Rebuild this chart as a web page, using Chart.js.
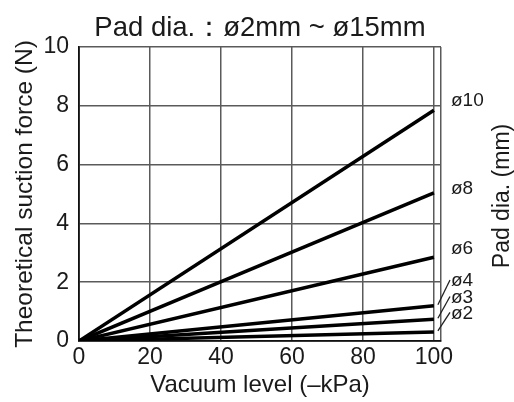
<!DOCTYPE html>
<html>
<head>
<meta charset="utf-8">
<script src="https://cdn.jsdelivr.net/npm/chart.js@4/dist/chart.umd.min.js"></script>
<style>
  html, body { margin: 0; padding: 0; background: #fff; }
  #wrap { width: 514px; height: 402px; }
</style>
</head>
<body>
<div id="wrap"><canvas id="c" width="514" height="402"></canvas></div>
<script>
// ---- data ----
const vacuumLevels = [0, 100];                 // -kPa
const padNames = ['ø10', 'ø8', 'ø6', 'ø4', 'ø3', 'ø2'];
const forceAt100 = [7.85, 5.04, 2.85, 1.2, 0.74, 0.31]; // N at 100 kPa
const xTickValues = [0, 20, 40, 60, 80, 100, 102];
const yTickValues = [0, 2, 4, 6, 8, 10];
const labelAnchor = [8.16, 5.17, 3.13, 2.04, 1.48, 0.94]; // where right-side labels sit (N)
const withLeader = [false, false, false, true, true, true];

const FONT = "'Liberation Sans', Arial, sans-serif";
const datasets = padNames.map((n, i) => ({
  label: n,
  data: vacuumLevels.map(v => ({ x: v, y: forceAt100[i] * v / 100 })),
  showLine: true,
  borderColor: '#000',
  borderWidth: 3.5,
  pointRadius: 0,
  borderCapStyle: 'butt',
  fill: false
}));

const rightSide = {
  id: 'rightSide',
  afterDraw(chart) {
    const { ctx, chartArea, scales } = chart;
    const xs = scales.x, ys = scales.y;
    ctx.save();
    ctx.fillStyle = '#1a1a1a';
    ctx.font = '19px ' + FONT;
    ctx.textAlign = 'left';
    ctx.textBaseline = 'middle';
    padNames.forEach((n, i) => {
      const y = ys.getPixelForValue(labelAnchor[i]);
      const lx = chartArea.right + 10;
      ctx.fillText(n, lx, y);
      if (withLeader[i]) {
        ctx.beginPath();
        ctx.strokeStyle = '#222';
        ctx.lineWidth = 1.3;
        ctx.moveTo(xs.getPixelForValue(100) + 4, ys.getPixelForValue(forceAt100[i]) - 1);
        ctx.lineTo(lx - 1, y - 1);
        ctx.stroke();
      }
    });
    ctx.translate(503, (chartArea.top + chartArea.bottom) / 2 + 2);
    ctx.rotate(-Math.PI / 2);
    ctx.textAlign = 'center';
    ctx.font = '23px ' + FONT;
    ctx.fillText('Pad dia. (mm)', 0, 0);
    ctx.restore();
  }
};

new Chart(document.getElementById('c'), {
  type: 'scatter',
  data: { datasets },
  plugins: [rightSide],
  options: {
    responsive: false,
    animation: false,
    layout: { padding: { left: 0, right: 73, top: 0, bottom: 0 } },
    plugins: {
      legend: { display: false },
      tooltip: { enabled: false },
      title: {
        display: true,
        fullSize: false,
        text: 'Pad dia.：ø2mm ~ ø15mm',
        color: '#1a1a1a',
        font: { family: FONT, size: 27.5, weight: 'normal' },
        padding: { top: 12, bottom: 2 }
      }
    },
    scales: {
      x: {
        type: 'linear',
        min: 0, max: 102,
        afterBuildTicks: s => { s.ticks = xTickValues.map(v => ({ value: v })); },
        afterFit: s => { s.height = 61; },
        ticks: {
          autoSkip: false, maxRotation: 0,
          padding: 3,
          color: '#1a1a1a',
          font: { family: FONT, size: 23 },
          callback: v => (v % 20 === 0 ? String(v) : '')
        },
        grid: { color: '#5a5a5a', lineWidth: 1.5, drawTicks: false },
        border: { color: '#111', width: 1.8 },
        title: {
          display: true, text: 'Vacuum level (–kPa)', color: '#1a1a1a',
          font: { family: FONT, size: 24 }, padding: { top: 0, bottom: 2.6 }
        }
      },
      y: {
        type: 'linear',
        min: 0, max: 10,
        afterBuildTicks: s => { s.ticks = yTickValues.map(v => ({ value: v })); },
        afterFit: s => { s.width = 79; },
        ticks: {
          padding: 10,
          color: '#1a1a1a',
          font: { family: FONT, size: 23 }
        },
        grid: { color: '#5a5a5a', lineWidth: 1.5, drawTicks: false },
        border: { color: '#111', width: 1.8 },
        title: {
          display: true, text: 'Theoretical suction force (N)', color: '#1a1a1a',
          font: { family: FONT, size: 24.5 }, padding: { top: 10.3, bottom: 0 }
        }
      }
    }
  }
});
</script>
</body>
</html>
